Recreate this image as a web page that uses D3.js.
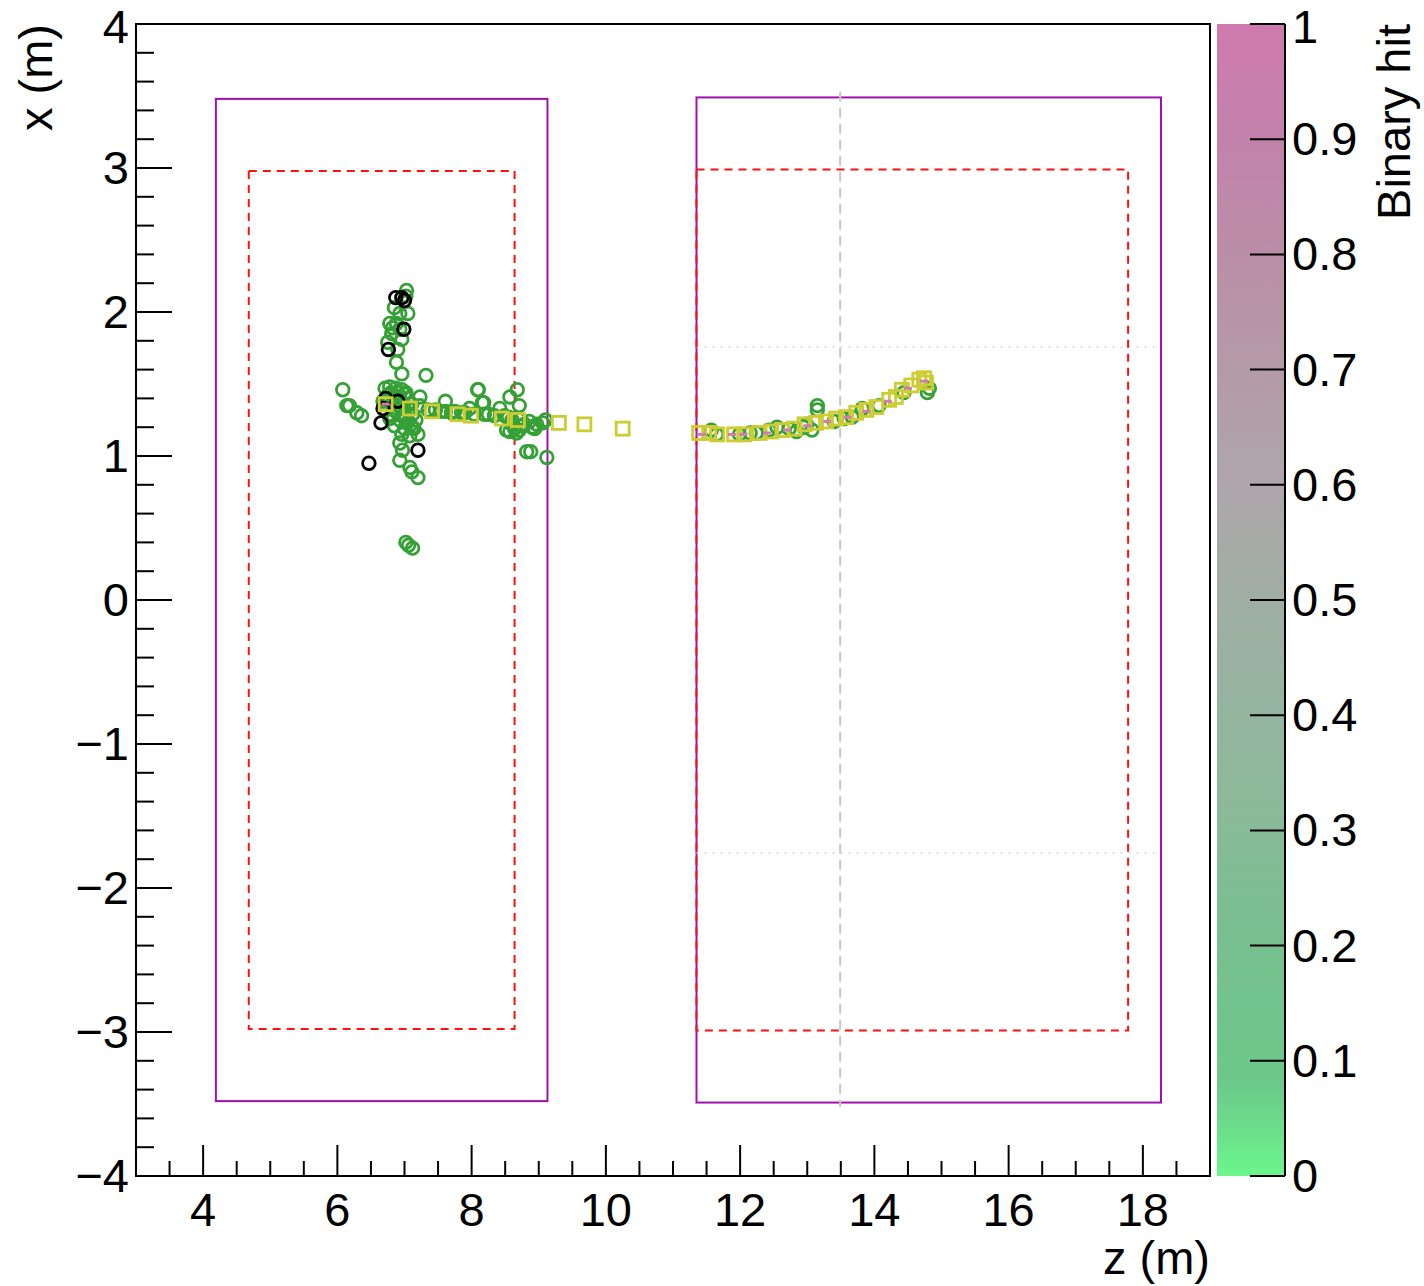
<!DOCTYPE html>
<html>
<head>
<meta charset="utf-8">
<script src="https://cdn.jsdelivr.net/npm/d3@7"></script>
<style>
  html, body { margin: 0; padding: 0; background: #fff; }
  svg { display: block; font-family: "Liberation Sans", Arial, sans-serif; }
</style>
</head>
<body>
<svg id="chart" width="1424" height="1286"></svg>
<script>
// ---------------- DATA ----------------
const zDomain = [3, 19];
const xDomain = [-4, 4];
const zTicks = [4, 6, 8, 10, 12, 14, 16, 18];
const xTicks = [-4, -3, -2, -1, 0, 1, 2, 3, 4];
const colorTicks = [0, 0.1, 0.2, 0.3, 0.4, 0.5, 0.6, 0.7, 0.8, 0.9, 1];
const colorTickLabels = ["0", "0.1", "0.2", "0.3", "0.4", "0.5", "0.6", "0.7", "0.8", "0.9", "1"];

// detector outlines [z0, z1, x0, x1]
const outerBoxes = [[4.19, 9.13, -3.48, 3.48], [11.35, 18.27, -3.49, 3.49]];
const innerBoxes = [[4.68, 8.64, -2.98, 2.98], [11.35, 17.78, -2.99, 2.99]];
const verticalGuide = [13.49, -3.52, 3.53];        // z, x0, x1
const horizontalGuides = [[11.35, 18.2, 1.757], [11.35, 18.2, -1.757]]; // z0, z1, x

// hits (z, x) in metres
const greenHitsZ = [
  7.03, 7.02, 6.85, 6.93, 7.05, 6.78, 6.88, 6.93, 6.81, 6.75, 6.90, 6.88, 6.96, 7.32, 6.82, 6.96,
  6.08, 6.14, 6.18, 6.29, 6.36,
  6.71, 6.78, 6.87, 6.96, 7.02, 6.75, 6.85, 6.93, 7.05, 6.68, 6.81, 6.99, 7.11, 6.72, 6.87, 7.00, 7.12,
  6.78, 6.93, 7.06, 6.85, 7.00, 7.14, 6.96, 7.08, 7.23, 7.12, 7.20,
  6.80, 6.90, 7.00, 6.76, 6.95, 7.08, 6.83, 7.02, 7.17,
  6.93, 6.97, 6.93, 7.08, 7.11, 7.20, 7.02, 7.06, 7.12,
  7.23, 7.35, 7.46, 7.61, 7.61, 7.75, 7.90, 8.09, 8.16, 8.04, 8.19, 8.34, 8.49, 8.57, 8.68, 8.60, 8.71,
  8.79, 8.86, 8.97, 9.06, 9.10, 8.94, 8.71, 8.57, 8.64, 8.52, 8.67, 8.82, 8.88, 9.12, 8.42, 7.97, 8.71, 8.10, 8.18,
  7.55, 7.70, 7.85, 8.25, 8.55, 8.75, 8.90, 8.60,
  11.57, 11.65, 12.24, 12.55, 12.84, 12.99, 13.07, 13.15, 13.15, 13.67, 13.82, 14.79, 14.82,
  11.99, 12.43, 12.73, 13.55, 14.07, 14.44, 12.15, 12.95, 13.40
];
const greenHitsX = [
  2.15, 2.11, 2.03, 1.99, 1.99, 1.92, 1.92, 1.88, 1.85, 1.79, 1.74, 1.65, 1.57, 1.56, 1.89, 1.81,
  1.46, 1.35, 1.35, 1.30, 1.28,
  1.47, 1.48, 1.47, 1.46, 1.44, 1.42, 1.42, 1.40, 1.40, 1.38, 1.36, 1.36, 1.36, 1.32, 1.31, 1.29, 1.29,
  1.26, 1.25, 1.24, 1.21, 1.19, 1.19, 1.15, 1.14, 1.41, 1.20, 1.15,
  1.44, 1.44, 1.43, 1.39, 1.33, 1.33, 1.28, 1.27, 1.25,
  1.09, 1.04, 0.97, 0.92, 0.89, 0.85, 0.40, 0.38, 0.36,
  1.35, 1.32, 1.32, 1.38, 1.31, 1.31, 1.30, 1.46, 1.37, 1.29, 1.29, 1.28, 1.28, 1.41, 1.46, 1.25, 1.25,
  1.22, 1.24, 1.22, 1.23, 1.25, 1.19, 1.18, 1.17, 1.19, 1.18, 1.16, 1.03, 1.03, 0.99, 1.33, 1.33, 1.35, 1.46, 1.37,
  1.31, 1.30, 1.30, 1.29, 1.27, 1.21, 1.20, 1.22,
  1.18, 1.15, 1.16, 1.20, 1.17, 1.22, 1.18, 1.35, 1.32, 1.27, 1.33, 1.44, 1.47,
  1.15, 1.18, 1.19, 1.26, 1.35, 1.44, 1.16, 1.20, 1.24
];
const blackHitsZ = [6.87, 6.96, 7.00, 6.99, 6.76, 6.72, 6.68, 6.65, 6.90, 7.20, 6.47];
const blackHitsX = [2.10, 2.10, 2.08, 1.88, 1.74, 1.40, 1.33, 1.23, 1.38, 1.04, 0.95];

// track points (squares)
const trackZ = [6.72, 7.08, 7.41, 7.79, 7.99, 8.45, 8.69, 9.30, 9.68, 10.25,
  11.39, 11.54, 11.66, 11.91, 12.06, 12.29, 12.46, 12.63, 12.81, 12.96, 13.13, 13.28,
  13.43, 13.58, 13.73, 13.88, 14.03, 14.22, 14.32, 14.41, 14.55, 14.67, 14.74, 14.77];
const trackX = [1.36, 1.33, 1.31, 1.29, 1.28, 1.26, 1.25, 1.23, 1.22, 1.19,
  1.16, 1.16, 1.15, 1.15, 1.15, 1.16, 1.17, 1.18, 1.19, 1.22, 1.23, 1.24,
  1.26, 1.27, 1.30, 1.32, 1.34, 1.39, 1.41, 1.46, 1.49, 1.53, 1.54, 1.51];

// binary hits = 1 (pink markers)
const pinkZ = [6.72, 11.43, 11.88, 12.05, 12.40, 12.70, 13.00, 13.30, 13.60, 13.88, 14.20, 14.50, 14.74];
const pinkX = [1.36, 1.15, 1.15, 1.15, 1.16, 1.18, 1.21, 1.24, 1.27, 1.31, 1.38, 1.47, 1.52];

// colour palette stops for "Binary hit"
const paletteStops = [0, 0.08, 0.2, 0.35, 0.5, 0.6, 0.75, 0.9, 1];
const paletteColors = ["#6bf68c", "#6cc98a", "#78c090", "#8fb89c", "#a0aea4", "#aea6ab", "#b794a6", "#c282ab", "#cf7aae"];

// ---------------- DRAW ----------------
const svg = d3.select("#chart");
const L = 136, R = 1210, T = 24, B = 1176;
const zs = d3.scaleLinear().domain(zDomain).range([L, R]);
const xs = d3.scaleLinear().domain(xDomain).range([B, T]);
const FS = 47;

const plot = svg.append("g");

// outer boxes (purple)
plot.selectAll("rect.outer").data(outerBoxes).join("rect")
  .attr("x", d => zs(d[0])).attr("y", d => xs(d[3]))
  .attr("width", d => zs(d[1]) - zs(d[0])).attr("height", d => xs(d[2]) - xs(d[3]))
  .attr("fill", "none").attr("stroke", "#a010b0").attr("stroke-width", 2);

// guides
plot.append("line")
  .attr("x1", zs(verticalGuide[0])).attr("x2", zs(verticalGuide[0]))
  .attr("y1", xs(verticalGuide[2])).attr("y2", xs(verticalGuide[1]))
  .attr("stroke", "#c8c8c8").attr("stroke-width", 2).attr("stroke-dasharray", "10,6");
plot.selectAll("line.hg").data(horizontalGuides).join("line")
  .attr("x1", d => zs(d[0])).attr("x2", d => zs(d[1]))
  .attr("y1", d => xs(d[2])).attr("y2", d => xs(d[2]))
  .attr("stroke", "#d4d4d4").attr("stroke-width", 1.5).attr("stroke-dasharray", "2,6");

// inner boxes (red dashed)
plot.selectAll("rect.inner").data(innerBoxes).join("rect")
  .attr("x", d => zs(d[0])).attr("y", d => xs(d[3]))
  .attr("width", d => zs(d[1]) - zs(d[0])).attr("height", d => xs(d[2]) - xs(d[3]))
  .attr("fill", "none").attr("stroke", "#ff1010").attr("stroke-width", 2).attr("stroke-dasharray", "8,6");

// green hits
plot.selectAll("circle.g").data(d3.range(greenHitsZ.length)).join("circle")
  .attr("cx", i => zs(greenHitsZ[i])).attr("cy", i => xs(greenHitsX[i])).attr("r", 6.3)
  .attr("fill", "none").attr("stroke", "#35a035").attr("stroke-width", 2.8);

// black hits
plot.selectAll("circle.b").data(d3.range(blackHitsZ.length)).join("circle")
  .attr("cx", i => zs(blackHitsZ[i])).attr("cy", i => xs(blackHitsX[i])).attr("r", 6.3)
  .attr("fill", "none").attr("stroke", "#000").attr("stroke-width", 2.8);

// track squares
plot.selectAll("rect.sq").data(d3.range(trackZ.length)).join("rect")
  .attr("x", i => zs(trackZ[i]) - 6.5).attr("y", i => xs(trackX[i]) - 6.5)
  .attr("width", 13).attr("height", 13)
  .attr("fill", "none").attr("stroke", "#cccc33").attr("stroke-width", 2.8);

// pink markers
plot.selectAll("line.pk").data(d3.range(pinkZ.length)).join("line")
  .attr("x1", i => zs(pinkZ[i]) - 4).attr("x2", i => zs(pinkZ[i]) + 4)
  .attr("y1", i => xs(pinkX[i])).attr("y2", i => xs(pinkX[i]))
  .attr("stroke", "#d27ab4").attr("stroke-width", 3);

// frame
svg.append("rect").attr("x", L).attr("y", T).attr("width", R - L).attr("height", B - T)
  .attr("fill", "none").attr("stroke", "#000").attr("stroke-width", 2);

// axes: bottom (z)
const axB = svg.append("g").attr("stroke", "#000").attr("stroke-width", 2);
const zMinor = d3.range(3.5, 19, 0.5).filter(v => !zTicks.includes(v));
axB.selectAll("line.zmaj").data(zTicks).join("line")
  .attr("x1", d => zs(d)).attr("x2", d => zs(d)).attr("y1", B).attr("y2", B - 31);
axB.selectAll("line.zmin").data(zMinor).join("line")
  .attr("x1", d => zs(d)).attr("x2", d => zs(d)).attr("y1", B).attr("y2", B - 15);
svg.selectAll("text.zt").data(zTicks).join("text")
  .attr("x", d => zs(d)).attr("y", B + 50).attr("text-anchor", "middle")
  .attr("font-size", FS).text(d => d);

// axes: left (x)
const xMinor = d3.range(-3.8, 4, 0.2).map(v => Math.round(v * 10) / 10).filter(v => !xTicks.includes(v));
axB.selectAll("line.xmaj").data(xTicks).join("line")
  .attr("y1", d => xs(d)).attr("y2", d => xs(d)).attr("x1", L).attr("x2", L + 36);
axB.selectAll("line.xmin").data(xMinor).join("line")
  .attr("y1", d => xs(d)).attr("y2", d => xs(d)).attr("x1", L).attr("x2", L + 18);
svg.selectAll("text.xt").data(xTicks).join("text")
  .attr("x", L - 7).attr("y", d => Math.max(xs(d) + 16, 43)).attr("text-anchor", "end")
  .attr("font-size", FS).text(d => d < 0 ? "\u2212" + Math.abs(d) : String(d));

// axis titles
svg.append("text").attr("x", R).attr("y", 1274).attr("text-anchor", "end")
  .attr("font-size", FS).text("z (m)");
svg.append("text").attr("transform", `translate(52,${T}) rotate(-90)`).attr("text-anchor", "end")
  .attr("font-size", FS).text("x (m)");

// colour bar
const CL = 1217, CR = 1285;
const cs = d3.scaleLinear().domain([0, 1]).range([B, T]);
const defs = svg.append("defs");
const grad = defs.append("linearGradient").attr("id", "pal")
  .attr("x1", 0).attr("y1", 1).attr("x2", 0).attr("y2", 0);
grad.selectAll("stop").data(paletteStops).join("stop")
  .attr("offset", d => d).attr("stop-color", (d, i) => paletteColors[i]);
svg.append("rect").attr("x", CL).attr("y", T).attr("width", CR - CL).attr("height", B - T)
  .attr("fill", "url(#pal)");
svg.append("line").attr("x1", CR).attr("x2", CR).attr("y1", T).attr("y2", B)
  .attr("stroke", "#000").attr("stroke-width", 2);
svg.selectAll("line.ct").data(colorTicks).join("line")
  .attr("x1", CR - 35).attr("x2", CR).attr("y1", d => cs(d)).attr("y2", d => cs(d))
  .attr("stroke", "#000").attr("stroke-width", 2);
svg.selectAll("text.ct").data(colorTicks).join("text")
  .attr("x", 1292).attr("y", d => Math.max(cs(d) + 16, 43)).attr("font-size", FS)
  .text((d, i) => colorTickLabels[i]);
svg.append("text").attr("transform", `translate(1410,${T}) rotate(-90)`).attr("text-anchor", "end")
  .attr("font-size", FS).text("Binary hit");
</script>
</body>
</html>
